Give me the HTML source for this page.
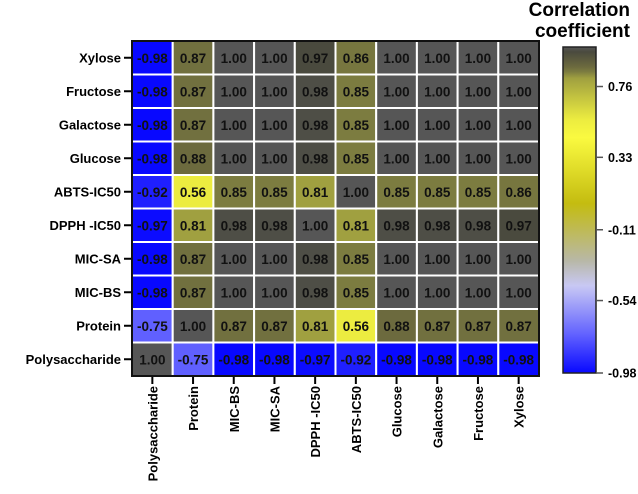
<!DOCTYPE html>
<html><head><meta charset="utf-8"><style>
body{margin:0;background:#fff;width:638px;height:489px;overflow:hidden}
svg{font-family:"Liberation Sans",Arial,sans-serif;font-weight:bold}
</style></head><body>
<svg id="c" width="638" height="489"></svg>
<script>
const cols=["Polysaccharide","Protein","MIC-BS","MIC-SA","DPPH -IC50","ABTS-IC50","Glucose","Galactose","Fructose","Xylose"];
const rows=["Xylose","Fructose","Galactose","Glucose","ABTS-IC50","DPPH -IC50","MIC-SA","MIC-BS","Protein","Polysaccharide"];
const values=[
[-0.98,0.87,1.00,1.00,0.97,0.86,1.00,1.00,1.00,1.00],
[-0.98,0.87,1.00,1.00,0.98,0.85,1.00,1.00,1.00,1.00],
[-0.98,0.87,1.00,1.00,0.98,0.85,1.00,1.00,1.00,1.00],
[-0.98,0.88,1.00,1.00,0.98,0.85,1.00,1.00,1.00,1.00],
[-0.92,0.56,0.85,0.85,0.81,1.00,0.85,0.85,0.85,0.86],
[-0.97,0.81,0.98,0.98,1.00,0.81,0.98,0.98,0.98,0.97],
[-0.98,0.87,1.00,1.00,0.98,0.85,1.00,1.00,1.00,1.00],
[-0.98,0.87,1.00,1.00,0.98,0.85,1.00,1.00,1.00,1.00],
[-0.75,1.00,0.87,0.87,0.81,0.56,0.88,0.87,0.87,0.87],
[1.00,-0.75,-0.98,-0.98,-0.97,-0.92,-0.98,-0.98,-0.98,-0.98]];
const cbTicks=[0.76,0.33,-0.11,-0.54,-0.98];
const vmin=-0.98,vmax=1.0;
const stops=[[-0.98,[8,8,255]],[-0.75,[96,96,255]],[-0.45,[200,200,244]],[-0.3,[184,184,168]],[0.05,[196,188,16]],[0.45,[250,250,64]],[0.56,[236,236,64]],[0.81,[160,160,64]],[0.85,[124,124,64]],[0.88,[108,106,62]],[0.97,[74,74,62]],[1.0,[86,86,86]]];
function color(v){for(let i=1;i<stops.length;i++){if(v<=stops[i][0]){const a=stops[i-1],b=stops[i];const t=Math.max(0,(v-a[0])/(b[0]-a[0]));const c=a[1].map((x,k)=>Math.round(x+(b[1][k]-x)*t));return `rgb(${c})`;}}return "rgb(86,86,86)";}
const X0=132,Y0=41,W=407,H=335,cw=W/cols.length,ch=H/rows.length;
const xs=j=>X0+j*cw, ys=i=>Y0+i*ch;
const svg=document.getElementById('c');const NS="http://www.w3.org/2000/svg";
function mk(t,a,p){const e=document.createElementNS(NS,t);for(const k in a)e.setAttribute(k,a[k]);(p||svg).appendChild(e);return e;}
rows.forEach((r,i)=>{cols.forEach((c,j)=>{const v=values[i][j];
const rc=mk('rect',{x:xs(j),y:ys(i),width:cw,height:ch,fill:color(v),stroke:'#fff','stroke-width':2});


const t=mk('text',{x:xs(j)+cw/2,y:ys(i)+ch/2+5,'text-anchor':'middle','font-size':13.5,fill:'#111'});t.textContent=v.toFixed(2);

});
const l=mk('text',{x:121,y:ys(i)+ch/2+4.5,'text-anchor':'end','font-size':13,fill:'#000'});l.textContent=r;


mk('line',{x1:124,x2:X0,y1:ys(i)+ch/2,y2:ys(i)+ch/2,stroke:'#000','stroke-width':2});});
cols.forEach((c,j)=>{const x=xs(j)+cw/2;mk('line',{x1:x,x2:x,y1:Y0+H,y2:Y0+H+8,stroke:'#000','stroke-width':2});
const t=mk('text',{transform:`translate(${x+5},386) rotate(-90)`,'text-anchor':'end','font-size':13,fill:'#000'});t.textContent=c;

});
const fr=mk('rect',{x:X0,y:Y0,width:W,height:H,fill:'none',stroke:'#111','stroke-width':2});


const CX=563,CT=47,CB=373,CW=33;const cy=v=>CB-(v-vmin)/(vmax-vmin)*(CB-CT);
const defs=mk('defs',{});const g=mk('linearGradient',{id:'g',x1:0,y1:1,x2:0,y2:0},defs);
stops.forEach(s=>mk('stop',{offset:(s[0]-vmin)/(vmax-vmin),'stop-color':`rgb(${s[1]})`},g));
const cb=mk('rect',{x:CX,y:CT,width:CW,height:CB-CT,fill:'url(#g)',stroke:'#222','stroke-width':1.5});


cbTicks.forEach(v=>{const y=cy(v);mk('line',{x1:CX+CW,x2:CX+CW+7,y1:y,y2:y,stroke:'#555','stroke-width':1.5});
const t=mk('text',{x:CX+CW+12,y:y+4.5,'font-size':12.5,fill:'#000'});t.textContent=v.toFixed(2);

});
[["Correlation",16],["coefficient",37]].forEach(([s,y])=>{const t=mk('text',{x:630,y:y,'text-anchor':'end','font-size':19,fill:'#000'});t.textContent=s;

});
</script>
</body></html>
